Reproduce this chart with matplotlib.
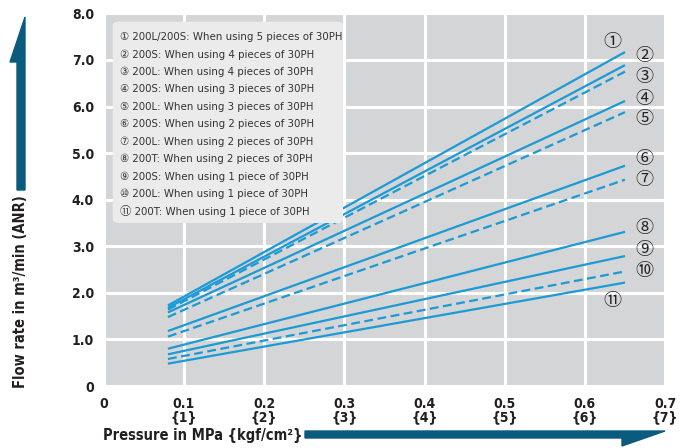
import matplotlib.pyplot as plt
from matplotlib.patches import FancyBboxPatch, Polygon

# pressure range of every line (MPa)
p_start = 0.08
p_end = 0.65

# flow rate at start / end of each line (m3/min ANR)
flow_start = [1.73, 1.68, 1.64, 1.58, 1.48, 1.18, 1.06, 0.80, 0.68, 0.58, 0.48]
flow_end = [7.17, 6.89, 6.75, 6.12, 5.88, 4.73, 4.43, 3.31, 2.79, 2.46, 2.22]
dashed = [False, False, True, False, True, False, True, False, False, True, False]

marks = ["①", "②", "③", "④", "⑤", "⑥", "⑦", "⑧", "⑨", "⑩", "⑪"]
legend_text = [
    "200L/200S: When using 5 pieces of 30PH",
    "200S: When using 4 pieces of 30PH",
    "200L: When using 4 pieces of 30PH",
    "200S: When using 3 pieces of 30PH",
    "200L: When using 3 pieces of 30PH",
    "200S: When using 2 pieces of 30PH",
    "200L: When using 2 pieces of 30PH",
    "200T: When using 2 pieces of 30PH",
    "200S: When using 1 piece of 30PH",
    "200L: When using 1 piece of 30PH",
    "200T: When using 1 piece of 30PH",
]

x_ticks = [0, 0.1, 0.2, 0.3, 0.4, 0.5, 0.6, 0.7]
x_labels = ["0", "0.1\n{1}", "0.2\n{2}", "0.3\n{3}", "0.4\n{4}", "0.5\n{5}", "0.6\n{6}", "0.7\n{7}"]
y_ticks = [0, 1, 2, 3, 4, 5, 6, 7, 8]
y_labels = ["0", "1.0", "2.0", "3.0", "4.0", "5.0", "6.0", "7.0", "8.0"]

FONT = ["DejaVu Sans", "Noto Sans CJK JP"]
MARKFONT = ["Noto Sans CJK JP", "DejaVu Sans"]
STRETCH = "condensed"
BLUE = "#1b9ad6"
ARROW = "#0b5b7f"
INK = "#231f20"

W, H = 691, 448


def px(x, y):
    return (x / W, 1 - y / H)


fig = plt.figure(figsize=(W / 100, H / 100), dpi=100)
ax = fig.add_axes([103.8 / W, 1 - 386 / H, (666.7 - 103.8) / W, (386 - 13.4) / H])
ax.set_facecolor("#d3d5d6")
ax.set_xlim(0, 0.702)
ax.set_ylim(0, 8)
for s in ax.spines.values():
    s.set_visible(False)
ax.grid(True, color="white", linewidth=2.2)
ax.set_axisbelow(True)
ax.tick_params(length=0, pad=8)

ax.set_xticks(x_ticks)
ax.set_xticklabels(x_labels, family=FONT, stretch=STRETCH, weight="bold", fontsize=10,
                   color=INK, linespacing=0.9)
ax.set_yticks(y_ticks)
ax.set_yticklabels(y_labels, family=FONT, stretch=STRETCH, weight="bold", fontsize=10, color=INK)
ax.tick_params(axis="y", pad=7)

# right-side circled labels (one above line 1, one below line 11)
label_x = [0.634, 0.674, 0.674, 0.674, 0.674, 0.674, 0.674, 0.674, 0.674, 0.674, 0.634]
label_y = [7.39, 7.09, 6.64, 6.17, 5.74, 4.88, 4.43, 3.40, 2.91, 2.46, 1.83]

for i in range(len(flow_start)):
    ax.plot([p_start, p_end], [flow_start[i], flow_end[i]], color=BLUE, lw=1.6,
            linestyle=(0, (4, 2)) if dashed[i] else "-", solid_capstyle="butt")
    ax.text(label_x[i], label_y[i], marks[i], family=MARKFONT, fontsize=13,
            color=INK, ha="center", va="center")

# legend box
x0, y0 = px(112.7, 223)
x1, y1 = px(343, 21.7)
box = FancyBboxPatch((x0, y0), x1 - x0, y1 - y0, boxstyle="round,pad=0,rounding_size=0.008",
                     transform=fig.transFigure, facecolor="#ebebeb", edgecolor="none", zorder=3)
fig.patches.append(box)
for i in range(len(marks)):
    fig.text(*px(120, 37.2 + 17.4 * i), marks[i] + " " + legend_text[i], family=FONT,
             stretch=STRETCH, fontsize=8.2, color="#333333", va="center", ha="left", zorder=4)

# arrows
fig.patches.append(Polygon([px(17, 190), px(17, 62), px(10, 62), px(25, 17), px(25, 190)],
                           closed=True, transform=fig.transFigure, color=ARROW))
fig.patches.append(Polygon([px(305, 431), px(665, 431), px(622, 446), px(622, 438), px(305, 438)],
                           closed=True, transform=fig.transFigure, color=ARROW))

fig.text(*px(21, 292), "Flow rate in m³/min (ANR)", family=FONT, stretch=STRETCH,
         weight="bold", fontsize=10.5, color=INK, rotation=90, ha="center", va="center")
fig.text(*px(103, 435), "Pressure in MPa {kgf/cm²}", family=FONT, stretch=STRETCH,
         weight="bold", fontsize=10.5, color=INK, ha="left", va="center")

fig.savefig("out.png", dpi=100)
